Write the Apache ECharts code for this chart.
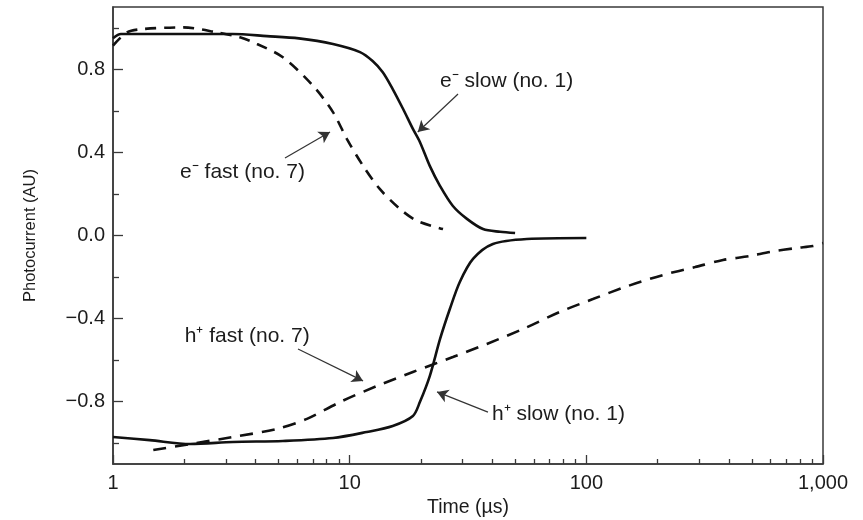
<!DOCTYPE html>
<html>
<head>
<meta charset="utf-8">
<script src="https://cdn.jsdelivr.net/npm/echarts@6/dist/echarts.min.js"></script>
<style>
  html, body { margin: 0; padding: 0; background: #ffffff; }
  #chart { width: 863px; height: 520px; }
</style>
</head>
<body>
<div id="chart"></div>
<script>
// Photocurrent transients: electron (e−) and hole (h+) signals, slow sample no. 1 vs fast sample no. 7
const eSlowTime = [1, 1.08, 1.5, 2, 3.2, 4.47, 6.1, 8.5, 11.06, 12.5, 13.8, 15.2, 16.8, 18.5, 19.8, 21.8, 24.1, 27.3, 31.3, 36.6, 43.2, 50];
const eSlowCurrent = [0.95, 0.97, 0.97, 0.97, 0.97, 0.96, 0.949, 0.922, 0.883, 0.84, 0.786, 0.705, 0.61, 0.513, 0.45, 0.335, 0.238, 0.142, 0.08, 0.031, 0.018, 0.012];

const eFastTime = [1, 1.146, 1.34, 1.98, 2.75, 3.44, 4.06, 5.22, 7.0, 8.5, 9.74, 11.4, 13.4, 16.3, 19.3, 24.8];
const eFastCurrent = [0.914, 0.978, 0.994, 1.002, 0.978, 0.954, 0.922, 0.858, 0.721, 0.594, 0.464, 0.335, 0.224, 0.128, 0.07, 0.031];

const hSlowTime = [1, 1.43, 2.12, 3.21, 5.22, 8.5, 11.8, 15.2, 18.5, 19.8, 21.8, 24.1, 26.5, 29.2, 33.2, 40.3, 56.1, 100];
const hSlowCurrent = [-0.97, -0.985, -1.004, -0.994, -0.989, -0.975, -0.946, -0.917, -0.869, -0.802, -0.677, -0.498, -0.354, -0.224, -0.113, -0.041, -0.017, -0.012];

const hFastTime = [1.48, 2.12, 3.21, 4.93, 6.6, 9.1, 13.0, 18.5, 27.3, 38.0, 54.0, 77.3, 106.6, 150, 211, 288, 378, 491, 597, 776, 906, 1000];
const hFastCurrent = [-1.033, -1.004, -0.97, -0.931, -0.883, -0.802, -0.725, -0.657, -0.585, -0.522, -0.45, -0.368, -0.306, -0.243, -0.19, -0.152, -0.118, -0.099, -0.079, -0.06, -0.051, -0.036];

// Axis ticks
const xMajorTicks = [1, 10, 100, 1000];
const xMinorTicks = [2, 3, 4, 5, 6, 7, 8, 9, 20, 30, 40, 50, 60, 70, 80, 90, 200, 300, 400, 500, 600, 700, 800, 900];
const yMajorTicks = [-0.8, -0.4, 0, 0.4, 0.8];
const yMinorTicks = [-1.0, -0.6, -0.2, 0.2, 0.6, 1.0];

// Callouts: label anchor (time, current) and arrow from tail to head in data units
const calloutText = ['e\u207B slow (no. 1)', 'e\u207B fast (no. 7)', 'h\u207A fast (no. 7)', 'h\u207A slow (no. 1)'];
const calloutAnchor = [[24.1, 0.744], [1.92, 0.306], [2.01, -0.484], [39.9, -0.859]];
const arrowTail = [[28.7, 0.681], [5.33, 0.373], [6.05, -0.546], [38.4, -0.85]];
const arrowHead = [[19.4, 0.498], [8.26, 0.498], [11.39, -0.7], [23.4, -0.753]];

const FONT = '"Liberation Sans", Arial, Helvetica, sans-serif';
const INK = '#111111';
const TEXT = '#1c1c1c';
const FRAME = '#3a3a3a';

function zip(xs, ys) { return xs.map((x, i) => [x, ys[i]]); }

function fmtY(v) {
  if (Math.abs(v) < 1e-9) return '0.0';
  return (v < 0 ? '\u2212' : '') + Math.abs(v).toFixed(1);
}

const chart = echarts.init(document.getElementById('chart'), null, { renderer: 'canvas' });

const baseX = {
  type: 'log', logBase: 10, min: 1, max: 1000, gridIndex: 0, position: 'bottom',
  splitLine: { show: false }
};
const baseY = {
  type: 'value', min: -1.1, max: 1.1, gridIndex: 0, position: 'left',
  splitLine: { show: false }
};

const arrowLines = arrowTail.map((t, i) => [
  { coord: t },
  { coord: arrowHead[i] }
]);

chart.setOption({
  animation: false,
  backgroundColor: '#ffffff',
  grid: {
    left: 113, right: 40, top: 7, bottom: 56,
    containLabel: false, outerBoundsMode: 'none',
    show: true, borderColor: FRAME, borderWidth: 1.5, backgroundColor: 'transparent'
  },
  xAxis: [
    Object.assign({}, baseX, {
      name: 'Time (\u00B5s)', nameLocation: 'middle', nameGap: 34,
      nameTextStyle: { fontFamily: FONT, fontSize: 19.5, color: TEXT },
      axisLine: { show: true, onZero: false, lineStyle: { color: FRAME, width: 1.5 } },
      axisTick: { show: true, inside: true, length: 9, customValues: xMajorTicks, lineStyle: { color: FRAME, width: 1.3 } },
      axisLabel: {
        customValues: xMajorTicks, margin: 9,
        fontFamily: FONT, fontSize: 20, color: TEXT,
        formatter: v => (v >= 1000 ? '1,000' : String(Math.round(v)))
      }
    }),
    Object.assign({}, baseX, {
      axisLine: { show: false, onZero: false },
      axisTick: { show: true, inside: true, length: 5, customValues: xMinorTicks, lineStyle: { color: FRAME, width: 1.3 } },
      axisLabel: { show: false }
    })
  ],
  yAxis: [
    Object.assign({}, baseY, {
      name: 'Photocurrent (AU)', nameLocation: 'middle', nameGap: 74, nameRotate: 90,
      nameTextStyle: { fontFamily: FONT, fontSize: 16.5, color: TEXT },
      axisLine: { show: true, onZero: false, lineStyle: { color: FRAME, width: 1.5 } },
      axisTick: { show: true, inside: true, length: 10, customValues: yMajorTicks, lineStyle: { color: FRAME, width: 1.3 } },
      axisLabel: {
        customValues: yMajorTicks, margin: 8,
        fontFamily: FONT, fontSize: 20, color: TEXT,
        formatter: fmtY
      }
    }),
    Object.assign({}, baseY, {
      axisLine: { show: false, onZero: false },
      axisTick: { show: true, inside: true, length: 6, customValues: yMinorTicks, lineStyle: { color: FRAME, width: 1.3 } },
      axisLabel: { show: false }
    })
  ],
  series: [
    {
      name: 'e slow', type: 'line', data: zip(eSlowTime, eSlowCurrent), smooth: 0.3,
      showSymbol: false, lineStyle: { color: INK, width: 2.6 },
      markLine: {
        silent: true, symbol: ['none', 'arrow'], symbolSize: [10, 11], animation: false,
        label: { show: false },
        lineStyle: { color: '#333', width: 1.2, type: 'solid' },
        data: arrowLines
      }
    },
    {
      name: 'e fast', type: 'line', data: zip(eFastTime, eFastCurrent), smooth: 0.3,
      showSymbol: false, lineStyle: { color: INK, width: 2.6, type: [11, 8] }
    },
    {
      name: 'h slow', type: 'line', data: zip(hSlowTime, hSlowCurrent), smooth: 0.3,
      showSymbol: false, lineStyle: { color: INK, width: 2.6 }
    },
    {
      name: 'h fast', type: 'line', data: zip(hFastTime, hFastCurrent), smooth: 0.3,
      showSymbol: false, lineStyle: { color: INK, width: 2.6, type: [13, 9] }
    }
  ]
});

// Callout texts placed through the chart's own coordinate conversion
const texts = calloutText.map((txt, i) => {
  const p = chart.convertToPixel({ gridIndex: 0 }, calloutAnchor[i]);
  return {
    type: 'text', x: p[0], y: p[1], silent: true,
    style: { text: txt, fontFamily: FONT, fontSize: 21, fill: TEXT, align: 'left', verticalAlign: 'middle' }
  };
});
chart.setOption({ graphic: texts });
</script>
</body>
</html>
